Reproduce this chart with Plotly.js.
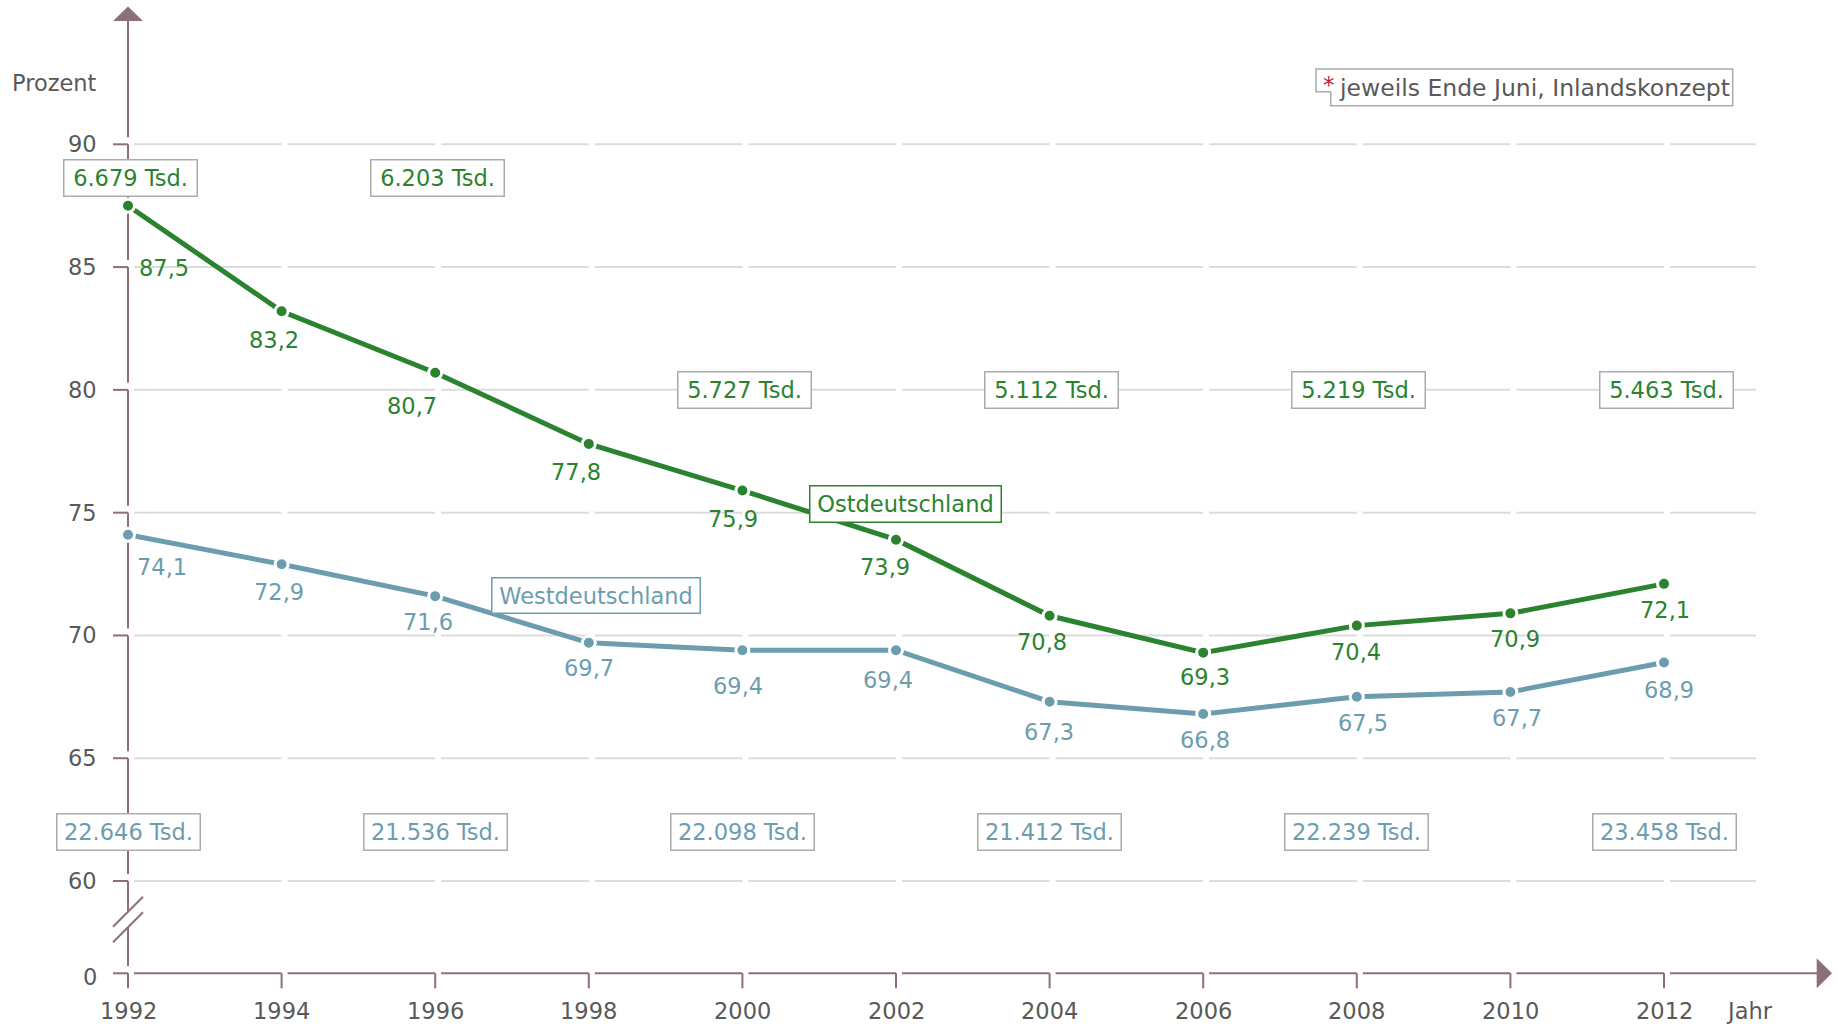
<!DOCTYPE html>
<html>
<head>
<meta charset="utf-8">
<script src="https://cdn.plot.ly/plotly-3.0.1.min.js"></script>
<style>
  html, body { margin: 0; padding: 0; background: #ffffff; }
  #chart { width: 1838px; height: 1026px; }
</style>
</head>
<body>
<div id="chart"></div>
<script>
// ---------------- DATA ----------------
const years = [1992, 1994, 1996, 1998, 2000, 2002, 2004, 2006, 2008, 2010, 2012];
const ostValues  = [87.5, 83.2, 80.7, 77.8, 75.9, 73.9, 70.8, 69.3, 70.4, 70.9, 72.1];
const westValues = [74.1, 72.9, 71.6, 69.7, 69.4, 69.4, 67.3, 66.8, 67.5, 67.7, 68.9];
const tsdYears = [1992, 1996, 2000, 2004, 2008, 2012];
const ostTsd  = ["6.679 Tsd.", "6.203 Tsd.", "5.727 Tsd.", "5.112 Tsd.", "5.219 Tsd.", "5.463 Tsd."];
const westTsd = ["22.646 Tsd.", "21.536 Tsd.", "22.098 Tsd.", "21.412 Tsd.", "22.239 Tsd.", "23.458 Tsd."];
const yTickVals = [60, 65, 70, 75, 80, 85, 90];
const yTickText = ["60", "65", "70", "75", "80", "85", "90"];
const yBreakLabel = "0";
const xTickText = ["1992", "1994", "1996", "1998", "2000", "2002", "2004", "2006", "2008", "2010", "2012"];
const seriesNames = ["Ostdeutschland", "Westdeutschland"];
const yTitle = "Prozent";
const xTitle = "Jahr";
const footnoteMark = "*";
const footnoteText = "jeweils Ende Juni, Inlandskonzept";

// ---------------- STYLE / LAYOUT ----------------
const GREEN = "#2b832f";
const BLUE = "#6c9dae";
const AXIS = "#8d6f76";
const GRID = "#dcdcdc";
const TEXT = "#595959";
const BOXLINE = "#ababab";
const RED = "#b0243e";
const FONT = "DejaVu Sans, Verdana, sans-serif";
const FS = 22.5;

const W = 1838, H = 1026;
const PX_YEAR = 76.8, X0PX = 128;          // pixel of first year
const PX_UNIT = 24.557, YTOP_PX = 144.3;   // pixel of top tick
const yTop = yTickVals[yTickVals.length - 1];
const X = px => years[0] + (px - X0PX) / PX_YEAR;
const Y = py => yTop - (py - YTOP_PX) / PX_UNIT;
const xp = x => X0PX + (x - years[0]) * PX_YEAR;
const yp = y => YTOP_PX + (yTop - y) * PX_UNIT;
const ZERO_PX = 973.3;
const yZero = Y(ZERO_PX);

// label offsets in pixels (dx right, dy down)
const ostDx = [36, -8, -23, -13, -9, -11, -8, 2, -1, 5, 1];
const ostDy = [62, 29, 33, 28, 28, 27, 26, 24, 26, 26, 26];
const westDx = [34, -3, -7, 0, -4, -8, -1, 2, 6, 7, 5];
const westDy = [32, 28, 26, 25, 36, 30, 30, 26, 26, 26, 28];
const ostBoxLevel = [Y(177.5), Y(177.5), 80, 80, 80, 80];
const westBoxLevel = [Y(831.5), Y(831.5), Y(831.5), Y(831.5), Y(831.5), Y(831.5)];

// ---------------- SHAPES ----------------
const shapes = [];
function seg(x0, y0, x1, y1, color, w) {
  shapes.push({type: 'line', xref: 'x', yref: 'y', x0: X(x0), y0: Y(y0), x1: X(x1), y1: Y(y1),
               line: {color: color, width: w}, layer: 'below'});
}
function poly(pts, fill, lineColor, lw) {
  const d = pts.map((p, i) => (i ? 'L ' : 'M ') + X(p[0]) + ',' + Y(p[1])).join(' ') + ' Z';
  shapes.push({type: 'path', xref: 'x', yref: 'y', path: d, fillcolor: fill,
               line: {color: lineColor, width: lw}, layer: 'below'});
}

// gridlines, broken at every year tick
const GRID_END = 1756;
yTickVals.forEach(v => {
  const py = yp(v);
  years.forEach((yr, k) => {
    const a = xp(yr) + 6;
    const b = k < years.length - 1 ? xp(years[k + 1]) : GRID_END;
    seg(a, py, b, py, GRID, 2);
  });
});

// y axis (segmented) with ticks
const AX = xp(years[0]);
const tickDesc = yTickVals.slice().sort((a, b) => b - a);
seg(AX, 21, AX, yp(tickDesc[0]) - 7, AXIS, 2);
tickDesc.forEach((v, i) => {
  const py = yp(v);
  seg(AX - 15, py, AX, py, AXIS, 2);
  if (i < tickDesc.length - 1) {
    seg(AX, py, AX, yp(tickDesc[i + 1]) - 7, AXIS, 2);
  } else {
    seg(AX, py, AX, 911.7, AXIS, 2);
    seg(AX, 927.3, AX, ZERO_PX - 7, AXIS, 2);
  }
});
// axis break
seg(AX - 15, 926.7, AX + 15, 896.7, AXIS, 2);
seg(AX - 15, 942.3, AX + 15, 912.3, AXIS, 2);
// zero tick + extension down (first x tick)
seg(AX - 15, ZERO_PX, AX, ZERO_PX, AXIS, 2);
seg(AX, ZERO_PX, AX, ZERO_PX + 15, AXIS, 2);
// up arrow
poly([[AX - 15, 21], [AX + 15, 21], [AX, 6.5]], AXIS, AXIS, 0);

// x axis (segmented) with ticks
years.forEach((yr, k) => {
  const a = xp(yr) + 6;
  if (k < years.length - 1) {
    const b = xp(years[k + 1]);
    seg(a, ZERO_PX, b, ZERO_PX, AXIS, 2);
    seg(b, ZERO_PX, b, ZERO_PX + 15, AXIS, 2);
  } else {
    seg(a, ZERO_PX, 1818, ZERO_PX, AXIS, 2);
  }
});
poly([[1816.7, ZERO_PX - 15], [1816.7, ZERO_PX + 15], [1832, ZERO_PX]], AXIS, AXIS, 0);

// footnote box (notched)
poly([[1316, 69], [1732.7, 69], [1732.7, 105.7], [1330.7, 105.7], [1330.7, 91.7], [1316, 91.7]], '#ffffff', BOXLINE, 1.5);

// ---------------- ANNOTATIONS ----------------
const ann = [];
const fnt = (c, s) => ({family: FONT, size: s || FS, color: c});
const fmt = v => v.toFixed(1).replace('.', ',');

ann.push({x: X(99), y: Y(83), xref: 'x', yref: 'y', text: yTitle, showarrow: false,
          xanchor: 'right', yanchor: 'middle', font: fnt(TEXT)});
yTickVals.forEach((v, i) => ann.push({x: X(99), y: v, xref: 'x', yref: 'y', text: yTickText[i], showarrow: false,
          xanchor: 'right', yanchor: 'middle', font: fnt(TEXT)}));
ann.push({x: X(99), y: Y(977), xref: 'x', yref: 'y', text: yBreakLabel, showarrow: false,
          xanchor: 'right', yanchor: 'middle', font: fnt(TEXT)});
years.forEach((yr, i) => ann.push({x: yr, y: Y(1011), xref: 'x', yref: 'y', text: xTickText[i], showarrow: false,
          xanchor: 'center', yanchor: 'middle', font: fnt(TEXT)}));
ann.push({x: X(1749), y: Y(1011), xref: 'x', yref: 'y', text: xTitle, showarrow: false,
          xanchor: 'center', yanchor: 'middle', font: fnt(TEXT)});

// value labels
ostValues.forEach((v, i) => ann.push({x: years[i], y: v, xref: 'x', yref: 'y', text: fmt(v), showarrow: false,
          xanchor: 'center', yanchor: 'middle', xshift: ostDx[i], yshift: -ostDy[i], font: fnt(GREEN)}));
westValues.forEach((v, i) => ann.push({x: years[i], y: v, xref: 'x', yref: 'y', text: fmt(v), showarrow: false,
          xanchor: 'center', yanchor: 'middle', xshift: westDx[i], yshift: -westDy[i], font: fnt(BLUE)}));

// thousand boxes
tsdYears.forEach((yr, i) => ann.push({x: yr, y: ostBoxLevel[i], xref: 'x', yref: 'y', text: ostTsd[i], showarrow: false,
          xanchor: 'center', yanchor: 'middle', xshift: 2, font: fnt(GREEN), bgcolor: '#ffffff',
          bordercolor: BOXLINE, borderwidth: 1.5, borderpad: 4, width: 124, height: 27}));
tsdYears.forEach((yr, i) => ann.push({x: yr, y: westBoxLevel[i], xref: 'x', yref: 'y', text: westTsd[i], showarrow: false,
          xanchor: 'center', yanchor: 'middle', xshift: 0, font: fnt(BLUE), bgcolor: '#ffffff',
          bordercolor: BOXLINE, borderwidth: 1.5, borderpad: 4, width: 134, height: 27}));

// series name boxes
ann.push({x: X(905.4), y: Y(504.2), xref: 'x', yref: 'y', text: seriesNames[0], showarrow: false,
          xanchor: 'center', yanchor: 'middle', font: fnt(GREEN), bgcolor: '#ffffff',
          bordercolor: GREEN, borderwidth: 1.5, borderpad: 4, width: 182, height: 27});
ann.push({x: X(595.8), y: Y(595.3), xref: 'x', yref: 'y', text: seriesNames[1], showarrow: false,
          xanchor: 'center', yanchor: 'middle', font: fnt(BLUE), bgcolor: '#ffffff',
          bordercolor: BLUE, borderwidth: 1.5, borderpad: 4, width: 199, height: 26});

// footnote
ann.push({x: X(1321), y: Y(85), xref: 'x', yref: 'y', text: footnoteMark, showarrow: false,
          xanchor: 'left', yanchor: 'middle', font: fnt(RED, 23)});
ann.push({x: X(1337), y: Y(87.5), xref: 'x', yref: 'y', text: footnoteText, showarrow: false,
          xanchor: 'left', yanchor: 'middle', font: fnt(TEXT, 23.5)});

// ---------------- TRACES ----------------
const traces = [
  {x: years, y: westValues, name: seriesNames[1], type: 'scatter', mode: 'lines+markers', cliponaxis: false,
   line: {color: BLUE, width: 5}, marker: {size: 13, color: BLUE, line: {color: '#ffffff', width: 3}}, hoverinfo: 'skip'},
  {x: years, y: ostValues, name: seriesNames[0], type: 'scatter', mode: 'lines+markers', cliponaxis: false,
   line: {color: GREEN, width: 5}, marker: {size: 13, color: GREEN, line: {color: '#ffffff', width: 3}}, hoverinfo: 'skip'}
];

const layout = {
  width: W, height: H,
  margin: {l: 0, r: 0, t: 0, b: 0, pad: 0},
  paper_bgcolor: '#ffffff', plot_bgcolor: '#ffffff',
  showlegend: false,
  font: {family: FONT, size: FS, color: TEXT},
  xaxis: {range: [X(0), X(W)], visible: false, fixedrange: true},
  yaxis: {range: [Y(H), Y(0)], visible: false, fixedrange: true},
  shapes: shapes,
  annotations: ann
};

Plotly.newPlot('chart', traces, layout, {displayModeBar: false, staticPlot: true});
</script>
</body>
</html>
